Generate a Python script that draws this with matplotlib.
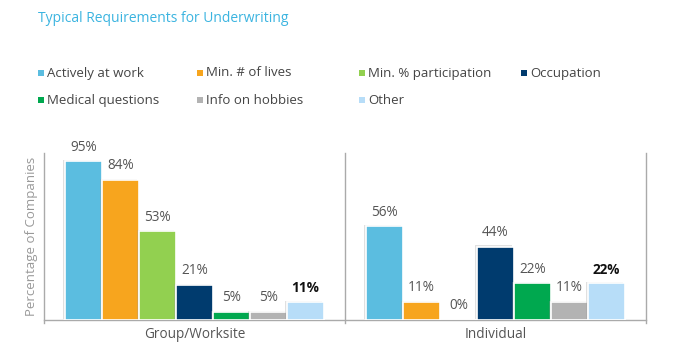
import matplotlib
matplotlib.use("Agg")
import matplotlib.pyplot as plt
import matplotlib.patheffects as pe
from matplotlib.patches import Rectangle
import numpy as np

plt.rcParams['font.family'] = ['Open Sans', 'DejaVu Sans']

categories = ["Group/Worksite", "Individual"]
series_names = ["Actively at work", "Min. # of lives", "Min. % participation", "Occupation",
                "Medical questions", "Info on hobbies", "Other"]
series_values = [
    [95, 56],
    [84, 11],
    [53, 0],
    [21, 44],
    [5, 22],
    [5, 11],
    [11, 22],
]
colors = ["#5BBDE0", "#F7A51E", "#92D050", "#003B6E", "#00A84F", "#B3B3B3", "#B7DDF8"]
title = "Typical Requirements for Underwriting"
ylabel = "Percentage of Companies"

fig = plt.figure(figsize=(6.74, 3.55), dpi=100)
W, H = 674, 355
ax = fig.add_axes([44 / W, 1 - 320 / H, (646 - 44) / W, (320 - 153) / H])

n = len(series_names)
bw = 0.86 / n
x = np.arange(len(categories))
for i, (name, vals, c) in enumerate(zip(series_names, series_values, colors)):
    pos = x - 0.43 + bw * (i + 0.5)
    bars = ax.bar(pos, vals, width=bw, color=c, edgecolor="white", linewidth=1.2, zorder=3,
                  path_effects=[pe.SimplePatchShadow(offset=(-1.2, 0.8), shadow_rgbFace="#999999", alpha=0.3),
                                pe.Normal()])
    last = (i == n - 1)
    for b, v in zip(bars, vals):
        ax.text(b.get_x() + b.get_width() / 2, v + 4, f"{v}%", ha="center", va="bottom",
                fontsize=9.8, color="#111111" if last else "#555555",
                fontweight="bold" if last else "normal", zorder=4)

ax.set_xlim(-0.5, len(categories) - 0.5)
ax.set_ylim(0, 100)
ax.set_yticks([])
ax.set_xticks(x)
ax.set_xticklabels(categories, fontsize=9.8, color="#555555")
ax.tick_params(axis="x", length=0, pad=5)
# category separators
for b in np.arange(len(categories) + 1) - 0.5:
    ax.plot([b, b], [-2, 100], color="#AAAAAA", linewidth=1, clip_on=False, zorder=1)
for s in ["top", "right", "left"]:
    ax.spines[s].set_visible(False)
ax.spines["bottom"].set_color("#AAAAAA")
ax.spines["bottom"].set_linewidth(1)
ax.set_ylabel(ylabel, fontsize=9.5, color="#999999", labelpad=4)

fig.text(38 / W, 1 - 18 / H, title, fontsize=10, color="#3BB4E0", va="center", ha="left")

# legend
cols_x = [38, 197, 359, 521]
rows_y = [73, 100]
for i, (name, c) in enumerate(zip(series_names, colors)):
    r, cidx = divmod(i, 4)
    lx, ly = cols_x[cidx], rows_y[r]
    fig.patches.append(Rectangle(((lx) / W, 1 - (ly + 3) / H), 6 / W, 6 / H, transform=fig.transFigure,
                                 facecolor=c, edgecolor="none"))
    fig.text((lx + 9) / W, 1 - ly / H, name, fontsize=9.5, color="#444444", va="center", ha="left")

fig.savefig("out.png", dpi=100)
